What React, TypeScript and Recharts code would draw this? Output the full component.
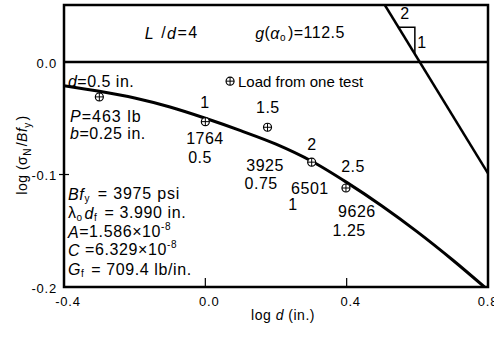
import React from "react";
import {
  ComposedChart,
  Line,
  Scatter,
  XAxis,
  YAxis,
  ReferenceLine,
  ReferenceArea,
  ReferenceDot,
} from "recharts";

// ---- data ----
const xTicks = [-0.4, 0, 0.4, 0.8];
const xTickLabels = ["-0.4", "0.0", "0.4", "0.8"];
const yTicks = [-0.2, -0.1, 0];
const yTickLabels = ["-0.2", "-0.1", "0.0"];

// size-effect curve (log d, log sigmaN/Bfy)
const curveX = [-0.4, -0.3, -0.2, -0.1, 0.0, 0.1, 0.2, 0.3, 0.4, 0.5, 0.6, 0.7, 0.79];
const curveY = [-0.021, -0.026, -0.032, -0.040, -0.050, -0.061, -0.073, -0.088, -0.107, -0.128, -0.151, -0.176, -0.2];

// strength-criterion asymptote (slope -1/2)
const asymX = [0.508, 0.8];
const asymY = [0.0507, -0.099];

// slope triangle
const triX = [0.548, 0.593, 0.593];
const triY = [0.031, 0.031, 0.007];

// test points
const testX = [-0.3, 0.0, 0.176, 0.301, 0.398];
const testY = [-0.031, -0.053, -0.058, -0.089, -0.112];
const testD = ["0.5", "1", "1.5", "2", "2.5"];
const testP = ["463", "1764", "3925", "6501", "9626"];
const testB = ["0.25", "0.5", "0.75", "1", "1.25"];

const curveData = curveX.map((x, i) => ({ x, y: curveY[i] }));
const asymData = asymX.map((x, i) => ({ x, y: asymY[i] }));
const triData = triX.map((x, i) => ({ x, y: triY[i] }));
const testData = testX.map((x, i) => ({ x, y: testY[i] }));

const FONT = "'Liberation Sans', Arial, sans-serif";
const ANN = 16;

const Oplus = (props: any) => {
  const { cx, cy } = props;
  if (cx == null || cy == null) return null;
  return (
    <g>
      <circle cx={cx} cy={cy} r={4} fill="#fff" stroke="#000" strokeWidth={1.2} />
      <line x1={cx - 4} x2={cx + 4} y1={cy} y2={cy} stroke="#000" strokeWidth={1} />
      <line x1={cx} x2={cx} y1={cy - 4} y2={cy + 4} stroke="#000" strokeWidth={1} />
    </g>
  );
};

const note = (
  key: string,
  x: number,
  y: number,
  content: React.ReactNode,
  anchor: "start" | "middle" | "end" = "middle",
  size: number = ANN,
  spacing: number = 0.5
) => (
  <ReferenceDot
    key={key}
    x={x}
    y={y}
    r={0}
    ifOverflow="visible"
    shape={(p: any) => (
      <text
        x={p.cx}
        y={p.cy}
        textAnchor={anchor}
        dominantBaseline="central"
        fontSize={size}
        letterSpacing={spacing}
        fontFamily={FONT}
        fill="#000"
      >
        {content}
      </text>
    )}
  />
);

const it = (s: string) => <tspan fontStyle="italic">{s}</tspan>;
const sub = (s: string) => (
  <>
    <tspan dy={4} fontSize={10}>{s}</tspan>
    <tspan dy={-4}>{"\u200A"}</tspan>
  </>
);
const sup = (s: string) => (
  <>
    <tspan dy={-6} fontSize={10}>{s}</tspan>
    <tspan dy={6}>{"\u200A"}</tspan>
  </>
);

const XTick = (props: any) => {
  const { x, y, payload } = props;
  const i = xTicks.indexOf(payload.value);
  const inner = payload.value > -0.4 && payload.value < 0.8;
  return (
    <g>
      {inner && <line x1={x} x2={x} y1={y} y2={y - 9} stroke="#000" strokeWidth={1.2} />}
      <text x={x + 4} y={y + 19} textAnchor="middle" fontSize={13} letterSpacing={0.8} fontFamily={FONT} fill="#000">
        {xTickLabels[i]}
      </text>
    </g>
  );
};

const YTick = (props: any) => {
  const { x, y, payload } = props;
  const i = yTicks.indexOf(payload.value);
  const inner = payload.value > -0.2 && payload.value < 0;
  return (
    <g>
      {inner && <line x1={x - 5} x2={x + 5} y1={y} y2={y} stroke="#000" strokeWidth={1.2} />}
      <text x={x - 7} y={y + 1} textAnchor="end" dominantBaseline="central" fontSize={13} letterSpacing={0.8} fontFamily={FONT} fill="#000">
        {yTickLabels[i]}
      </text>
    </g>
  );
};

export default function App() {
  return (
    <div style={{ position: "absolute", left: 0, top: 0, background: "#fff" }}>
      <ComposedChart
        width={494}
        height={339}
        margin={{ top: 5, right: 6, bottom: 0, left: 0 }}
      >
        <XAxis
          dataKey="x"
          type="number"
          domain={[-0.4, 0.8]}
          ticks={xTicks}
          allowDataOverflow
          axisLine={false}
          tickLine={false}
          tickSize={0}
          tickMargin={0}
          height={52}
          tick={<XTick />}
          label={{
            content: () => (
              <text x={283} y={320} textAnchor="middle" fontSize={14} letterSpacing={0.5} fontFamily={FONT} fill="#000">
                log {it("d")} (in.)
              </text>
            ),
          }}
        />
        <YAxis
          dataKey="y"
          type="number"
          domain={[-0.2, 0.0507]}
          ticks={yTicks}
          allowDataOverflow
          axisLine={false}
          tickLine={false}
          tickSize={0}
          tickMargin={0}
          width={64}
          tick={<YTick />}
          label={{
            content: () => (
              <text
                x={0}
                y={0}
                transform="translate(27,155) rotate(-90)"
                textAnchor="middle"
                fontSize={14}
                letterSpacing={0.5}
                fontFamily={FONT}
                fill="#000"
              >
                log (σ{sub("N")}/{it("Bf")}{sub("y")})
              </text>
            ),
          }}
        />
        <ReferenceArea
          x1={-0.4}
          x2={0.8}
          y1={-0.2}
          y2={0.0507}
          fill="none"
          stroke="#000"
          strokeWidth={2.5}
          ifOverflow="visible"
        />
        <ReferenceLine y={0} stroke="#000" strokeWidth={2.5} />
        <Line
          data={curveData}
          dataKey="y"
          type="monotone"
          stroke="#000"
          strokeWidth={3}
          dot={false}
          isAnimationActive={false}
        />
        <Line
          data={asymData}
          dataKey="y"
          type="linear"
          stroke="#000"
          strokeWidth={2.5}
          dot={false}
          isAnimationActive={false}
        />
        <Line
          data={triData}
          dataKey="y"
          type="linear"
          stroke="#000"
          strokeWidth={1.5}
          dot={false}
          isAnimationActive={false}
        />
        <Scatter data={testData} dataKey="y" shape={<Oplus />} isAnimationActive={false} />

        {note("ld", -0.095, 0.026, <>{it("L")} /{it("d")}=4</>, "middle", 16, 1.5)}
        {note("ga", 0.268, 0.026, <>{it("g")}({it("α")}{sub("o")})=112.5</>)}
        {note("s2", 0.565, 0.0427, "2")}
        {note("s1", 0.613, 0.0178, "1")}
        {note("d05", -0.389, -0.0169, <>{it("d")}={testD[0]} in.</>, "start")}
        <ReferenceDot x={0.07} y={-0.017} r={0} ifOverflow="visible" shape={<Oplus />} />
        {note("leg", 0.0925, -0.017, "Load from one test", "start", 15, 0)}
        {note("p0", -0.383, -0.048, <>{it("P")}={testP[0]} lb</>, "start", 16, 1)}
        {note("b0", -0.383, -0.0635, <>{it("b")}={testB[0]} in.</>, "start")}

        {note("d1", -0.001, -0.0364, testD[1])}
        {note("p1", -0.001, -0.0676, testP[1])}
        {note("b1", -0.015, -0.0853, testB[1])}
        {note("d2", 0.177, -0.04, testD[2])}
        {note("p2", 0.169, -0.0916, testP[2])}
        {note("b2", 0.158, -0.1076, testB[2])}
        {note("d3", 0.302, -0.0729, testD[3])}
        {note("p3", 0.296, -0.112, testP[3])}
        {note("b3", 0.248, -0.127, testB[3])}
        {note("d4", 0.418, -0.0933, testD[4])}
        {note("p4", 0.429, -0.1333, testP[4])}
        {note("b4", 0.407, -0.15, testB[4])}

        {note("bfy", -0.389, -0.1173, <>{it("Bf")}{sub("y")} = 3975 psi</>, "start", 16, 0.8)}
        {note("lam", -0.389, -0.1342, <>λ{sub("o")}{it("d")}{sub("f")} = 3.990 in.</>, "start", 16, 0.6)}
        {note("A", -0.389, -0.1511, <>{it("A")}=1.586×10{sup("-8")}</>, "start", 16, 0.6)}
        {note("C", -0.389, -0.1671, <>{it("C")} =6.329×10{sup("-8")}</>, "start", 16, 0.6)}
        {note("G", -0.389, -0.184, <>{it("G")}{sub("f")} = 709.4 lb/in.</>, "start", 16, 0.6)}
      </ComposedChart>
    </div>
  );
}
